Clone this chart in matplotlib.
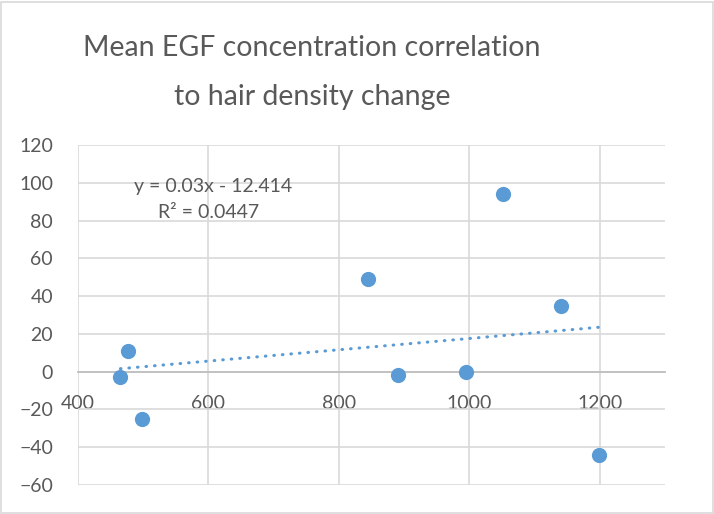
import numpy as np
import matplotlib.pyplot as plt
from matplotlib.patches import Rectangle

plt.rcParams["font.family"] = ["Lato", "DejaVu Sans"]

# mean EGF concentration vs hair density change
egf = [465, 476, 498, 844, 890, 995, 1051, 1140, 1199]
density_change = [-3, 11, -25, 49, -2, 0, 94, 35, -44]
x_ticks = [400, 600, 800, 1000, 1200]
y_ticks = [-60, -40, -20, 0, 20, 40, 60, 80, 100, 120]

blue = "#5B9BD5"
grey_txt = "#595959"
grid_col = "#D9D9D9"

fig = plt.figure(figsize=(7.14, 5.14), dpi=100)
ax = fig.add_axes([78 / 714, 1 - 485 / 514, (665 - 78) / 714, (485 - 145) / 514])

# chart border
fig.patches.append(Rectangle((0.002, 0.002), 0.996, 0.995, transform=fig.transFigure,
                             fill=False, edgecolor=grid_col, linewidth=1.2))

ax.scatter(egf, density_change, s=120, color=blue, zorder=3, linewidths=0)

# linear trendline
x = np.array(egf, dtype=float)
y = np.array(density_change, dtype=float)
slope, intercept = np.polyfit(x, y, 1)
xs = np.array([x.min(), x.max()])
ax.plot(xs, slope * xs + intercept, color=blue, linewidth=2.2,
        linestyle=(0, (0.2, 2.6)), dash_capstyle="round", zorder=2)

ax.set_xlim(400, 1300)
ax.set_ylim(-60, 120)
ax.set_xticks(x_ticks)
ax.set_yticks(y_ticks)
ax.grid(True, color=grid_col, linewidth=1.2, zorder=0)
ax.set_axisbelow(True)

for side in ["top", "right", "left"]:
    ax.spines[side].set_visible(False)
ax.spines["bottom"].set_position(("data", 0))
ax.spines["bottom"].set_color("#BFBFBF")
ax.spines["bottom"].set_linewidth(1.3)
ax.spines["bottom"].set_zorder(1)

ax.tick_params(axis="both", length=0, labelsize=14, labelcolor=grey_txt)
ax.tick_params(axis="y", pad=18)
ax.tick_params(axis="x", pad=17)

ax.text(607, 97.8, "y = 0.03x - 12.414", ha="center", va="center",
        fontsize=14, color=grey_txt)
ax.text(600, 84.5, "R² = 0.0447", ha="center", va="center",
        fontsize=14, color=grey_txt)

fig.text(312 / 714, 1 - 48 / 514, "Mean EGF concentration correlation",
         ha="center", va="center", fontsize=20.5, color=grey_txt)
fig.text(312 / 714, 1 - 97 / 514, "to hair density change",
         ha="center", va="center", fontsize=20.5, color=grey_txt)

fig.savefig("out.png", dpi=100)
